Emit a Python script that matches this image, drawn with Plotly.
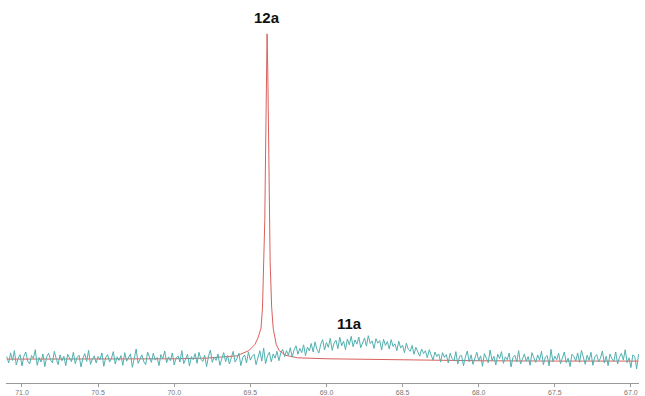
import numpy as np
import plotly.graph_objects as go

# Cyan (broad, noisy) spectrum: ppm grid start/step and intensities
cyan_start = 71.10
cyan_step = 0.0125
cyan_vals = [
    0.8, -1.2, 1.9, -0.4, 2.6, -1.8, 0.3, 1.4, -2.1, 0.9, 2.2, -0.6, -1.5, 1.1, 0.2, 2.9, -1.9, 0.5, -0.9, 1.6,
    -2.3, 0.7, 1.8, -0.3, -1.1, 2.4, 0.1, -1.7, 1.3, -0.5, 0.9, -2.0, 1.5, 0.4, -0.8, 2.1, -1.4, 0.6, 1.2, -2.4,
    0.3, 1.7, -0.7, 2.7, -1.6, 0.0, 1.0, -1.2, 0.8, -0.2, 1.9, -2.2, 0.5, 1.4, -0.9, 0.2, 2.3, -1.5, 0.7, -0.4,
    1.1, -1.9, 2.0, -0.6, 0.4, 1.6, -2.5, 0.9, 3.1, -1.3, 0.2, 1.3, -0.8, -1.7, 2.2, 0.6, -1.0, 1.8, -0.3, 0.5,
    -2.0, 1.4, 0.1, 2.5, -1.1, 0.7, -0.5, 1.9, -1.8, 0.4, 1.0, -0.9, 2.6, -1.4, 0.3, 1.5, -2.1, 0.8, -0.2, 1.7,
    -1.3, 2.1, 0.0, -0.7, 1.2, -2.3, 0.9, 2.8, -1.0, 0.6, -0.4, 1.6, -1.9, 0.3, 2.0, -0.8, 1.1, -1.5, 0.7, 2.4,
    -0.9, 0.2, 1.8, -2.0, 0.5, 1.3, -1.2, 2.2, -0.3, 0.9, 1.5, -1.7, 0.4, 2.6, -0.6, 3.4, -1.4, 1.0, 2.1, -0.8,
    1.6, 0.3, 2.4, -0.5, 1.9, 3.0, 0.8, 2.6, 1.2, 3.5, 0.6, 2.9, 4.1, 1.5, 3.3, 2.0, 4.4, 1.1, 3.7, 2.5,
    4.8, 2.2, 5.3, 3.0, 1.9, 4.6, 6.0, 2.8, 5.1, 3.6, 6.4, 2.7, 4.9, 5.8, 3.2, 6.7, 4.1, 5.5, 2.9, 6.2,
    4.4, 7.0, 3.8, 5.9, 4.6, 6.8, 3.5, 5.2, 6.5, 4.0, 7.2, 4.8, 5.6, 3.3, 6.3, 4.9, 5.7, 2.8, 6.1, 4.2,
    5.4, 3.1, 6.0, 3.9, 4.7, 2.6, 5.5, 3.4, 4.3, 2.0, 4.9, 3.0, 2.4, 4.2, 1.5, 3.6, 2.3, 0.9, 3.1, 1.7,
    2.6, 0.4, 2.9, 1.2, -0.3, 2.2, 0.8, 1.6, -0.9, 2.0, 0.5, 1.4, -1.2, 1.8, 0.2, -0.6, 2.3, -1.5, 0.9, 1.1,
    -2.0, 0.6, 2.5, -0.8, 1.3, -1.6, 0.4, 2.1, -0.5, 1.0, -2.2, 1.7, 0.3, -1.1, 2.8, -0.4, 0.9, -1.8, 1.5, 0.2,
    2.3, -1.3, 0.7, -0.2, 1.9, -2.4, 0.5, 1.2, -0.9, 2.6, -1.5, 0.1, 1.6, -0.7, 0.8, -1.9, 2.0, 0.4, -1.0, 1.3,
    -0.3, 2.4, -1.7, 0.6, 1.1, -2.1, 3.0, -0.8, 0.9, -0.2, 1.8, -1.4, 0.5, 2.2, -1.1, 0.3, -2.3, 1.5, 0.8, -0.6,
    1.9, -1.0, 2.7, 0.2, -1.6, 1.2, -0.4, 2.1, -1.9, 0.7, 1.4, -0.8, 0.3, 2.5, -1.2, 0.9, -2.0, 1.6, 0.1, -0.7,
    2.2, -1.5, 0.6, 1.8, -0.3, 2.9, -1.1, 0.4, -2.6, 1.3, 0.8, -3.0, 1.5,
]
cyan_ppm = cyan_start - cyan_step * np.arange(len(cyan_vals))

# Red (sharp) spectrum: ppm positions and intensities
red_ppm = [71.10, 70.50, 70.00, 69.79, 69.59, 69.51, 69.47, 69.45, 69.43, 69.42, 69.41, 69.405,
           69.40, 69.395, 69.39, 69.385, 69.38, 69.375, 69.37, 69.36, 69.35, 69.33, 69.31,
           69.27, 69.19, 68.99, 68.50, 68.00, 67.50, 66.95]
red_vals = [0.0, 0.0, 0.1, 0.3, 1.0, 2.6, 4.5, 6.5, 9.5, 16.0, 30.0, 43.0,
            63.0, 87.0, 100.0, 87.0, 63.0, 43.0, 30.0, 16.0, 9.5, 4.5, 2.6,
            1.2, 0.4, 0.1, -0.3, -0.5, -0.6, -0.6]

tick_vals = [71.0, 70.5, 70.0, 69.5, 69.0, 68.5, 68.0, 67.5, 67.0]
tick_text = ["71.0", "70.5", "70.0", "69.5", "69.0", "68.5", "68.0", "67.5", "67.0"]

labels = [("12a", 69.39, 105.0), ("11a", 68.846, 11.0)]

fig = go.Figure()
fig.add_trace(go.Scatter(x=red_ppm, y=red_vals, mode="lines",
                         line=dict(color="#d9605c", width=1), showlegend=False))
fig.add_trace(go.Scatter(x=cyan_ppm, y=cyan_vals, mode="lines",
                         line=dict(color="#52b0b0", width=1), showlegend=False))

for txt, xv, yv in labels:
    fig.add_annotation(x=xv, y=yv, text="<b>%s</b>" % txt, showarrow=False,
                       font=dict(family="Liberation Sans, Arial", size=15, color="#111"),
                       xanchor="center", yanchor="middle")

fig.update_layout(
    width=645, height=396,
    margin=dict(l=6, r=6, t=0, b=11),
    paper_bgcolor="white", plot_bgcolor="white",
    xaxis=dict(range=[71.105, 66.947], showgrid=False, zeroline=False,
               showline=True, linecolor="#999", linewidth=1,
               ticks="outside", ticklen=3, tickcolor="#999",
               tickvals=tick_vals, ticktext=tick_text,
               tickfont=dict(family="Liberation Sans, Arial", size=7, color="#777")),
    yaxis=dict(range=[-7.34, 110.4], visible=False),
)

fig.write_html("out.html")
